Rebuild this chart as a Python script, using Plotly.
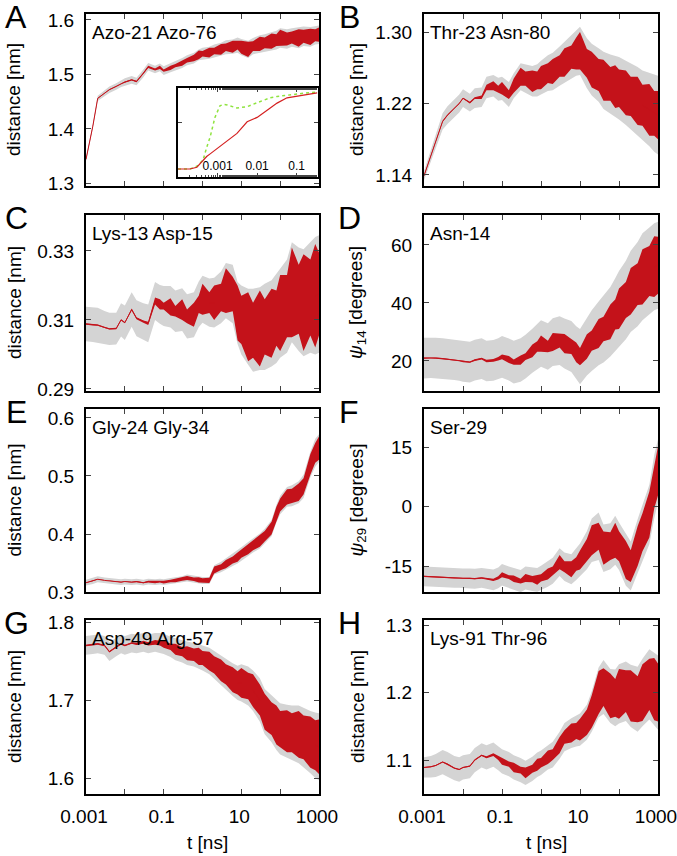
import numpy as np
import plotly.graph_objects as go

# time grid (ns), shared by all panels
t = [0.001, 0.0015, 0.002, 0.003, 0.004, 0.006, 0.008, 0.01, 0.015, 0.02, 0.03, 0.04,
     0.06, 0.08, 0.1, 0.15, 0.2, 0.3, 0.4, 0.6, 0.8, 1, 1.5, 2, 3, 4, 6, 8, 10, 15, 20,
     30, 40, 60, 80, 100, 150, 200, 300, 400, 600, 800, 1000]

# A: Azo-21 Azo-76
mean_A = [1.344, 1.405, 1.456, 1.466, 1.472, 1.478, 1.483, 1.486, 1.490, 1.487, 1.502,
          1.514, 1.509, 1.513, 1.507, 1.512, 1.516, 1.521, 1.526, 1.530, 1.536, 1.538,
          1.540, 1.543, 1.546, 1.550, 1.551, 1.554, 1.550, 1.546, 1.552, 1.556, 1.558,
          1.561, 1.563, 1.567, 1.565, 1.568, 1.567, 1.570, 1.569, 1.572, 1.573]
noise_A = [0.0008, 0.0008, 0.0008, 0.0008, 0.0008, 0.0008, 0.0008, 0.0008, 0.001, 0.0015, 0.0015,
           0.002, 0.002, 0.003, 0.002, 0.004, 0.003, 0.005, 0.004, 0.006, 0.008, 0.005,
           0.009, 0.006, 0.010, 0.007, 0.011, 0.008, 0.012, 0.014, 0.009, 0.013, 0.010,
           0.014, 0.011, 0.015, 0.012, 0.011, 0.016, 0.012, 0.015, 0.011, 0.013]
sd_A = [0.003, 0.004, 0.005, 0.006, 0.006, 0.006, 0.006, 0.007, 0.007, 0.007, 0.007,
        0.007, 0.007, 0.007, 0.008, 0.008, 0.008, 0.009, 0.009, 0.010, 0.010, 0.011,
        0.011, 0.012, 0.012, 0.013, 0.013, 0.014, 0.015, 0.016, 0.015, 0.016, 0.016,
        0.017, 0.017, 0.018, 0.018, 0.017, 0.019, 0.018, 0.018, 0.017, 0.017]

# B: Thr-23 Asn-80
mean_B = [1.139, 1.162, 1.178, 1.200, 1.207, 1.215, 1.220, 1.226, 1.221, 1.226, 1.227,
          1.238, 1.240, 1.236, 1.237, 1.230, 1.240, 1.250, 1.248, 1.245, 1.246, 1.249,
          1.254, 1.256, 1.262, 1.266, 1.272, 1.276, 1.279, 1.265, 1.258, 1.252, 1.246,
          1.242, 1.239, 1.237, 1.232, 1.228, 1.223, 1.218, 1.213, 1.209, 1.207]
noise_B = [0.0006, 0.0006, 0.0006, 0.0006, 0.0006, 0.0006, 0.0006, 0.0006, 0.001, 0.001, 0.002,
           0.003, 0.005, 0.004, 0.007, 0.005, 0.008, 0.010, 0.008, 0.012, 0.010, 0.013,
           0.011, 0.014, 0.012, 0.016, 0.013, 0.018, 0.021, 0.016, 0.020, 0.018, 0.023,
           0.019, 0.024, 0.021, 0.025, 0.022, 0.027, 0.023, 0.029, 0.025, 0.027]
sd_B = [0.005, 0.007, 0.008, 0.009, 0.010, 0.010, 0.010, 0.010, 0.010, 0.011, 0.011,
        0.012, 0.012, 0.013, 0.013, 0.014, 0.014, 0.015, 0.016, 0.017, 0.018, 0.019,
        0.020, 0.021, 0.022, 0.023, 0.024, 0.025, 0.027, 0.028, 0.029, 0.030, 0.032,
        0.033, 0.034, 0.035, 0.036, 0.037, 0.038, 0.039, 0.041, 0.043, 0.044]

# C: Lys-13 Asp-15
mean_C = [0.3088, 0.3086, 0.3085, 0.3078, 0.3074, 0.3075, 0.3100, 0.3092, 0.3130, 0.3105, 0.3095,
          0.3090, 0.3155, 0.3145, 0.3140, 0.3138, 0.3125, 0.3130, 0.3110, 0.3115, 0.3145, 0.3160,
          0.3150, 0.3150, 0.3165, 0.3185, 0.3175, 0.3120, 0.3100, 0.3080, 0.3070, 0.3075, 0.3080,
          0.3090, 0.3105, 0.3120, 0.3140, 0.3180, 0.3160, 0.3150, 0.3165, 0.3170, 0.3175]
noise_C = [0.0002, 0.0002, 0.0002, 0.0002, 0.0002, 0.0002, 0.0002, 0.0002, 0.0003, 0.0003, 0.0003,
           0.0005, 0.001, 0.0015, 0.001, 0.0025, 0.0015, 0.003, 0.002, 0.0035, 0.0025, 0.0045,
           0.003, 0.005, 0.004, 0.0065, 0.005, 0.008, 0.007, 0.010, 0.008, 0.011, 0.008,
           0.010, 0.008, 0.011, 0.009, 0.013, 0.010, 0.014, 0.011, 0.015, 0.012]
sd_C = [0.0050, 0.0050, 0.0050, 0.0048, 0.0047, 0.0046, 0.0048, 0.0050, 0.0050, 0.0052, 0.0053,
        0.0055, 0.0055, 0.0056, 0.0058, 0.0060, 0.0060, 0.0062, 0.0064, 0.0065, 0.0066, 0.0068,
        0.0070, 0.0072, 0.0075, 0.0080, 0.0085, 0.0090, 0.0100, 0.0110, 0.0120, 0.0120, 0.0125,
        0.0125, 0.0130, 0.0130, 0.0135, 0.0145, 0.0150, 0.0155, 0.0160, 0.0170, 0.0170]

# D: Asn-14, psi_14
mean_D = [21.0, 21.1, 21.0, 20.8, 20.6, 20.4, 20.2, 19.8, 19.6, 20.3, 20.8,
          20.0, 20.2, 20.8, 21.4, 20.5, 19.6, 20.3, 21.5, 23.5, 25.0, 26.0,
          25.0, 26.5, 27.0, 26.0, 25.0, 23.0, 21.5, 25.0, 27.0, 29.5, 31.0,
          33.5, 36.0, 38.0, 41.0, 44.0, 46.5, 49.0, 51.0, 52.5, 53.0]
noise_D = [0.2, 0.2, 0.2, 0.2, 0.2, 0.2, 0.2, 0.2, 0.2, 0.3, 0.3,
           0.4, 0.5, 0.6, 0.8, 1.2, 0.9, 1.6, 1.2, 2.2, 1.8, 2.8,
           2.0, 3.1, 2.4, 3.3, 2.6, 3.4, 3.0, 4.2, 3.5, 5.0, 4.2,
           6.0, 5.2, 7.0, 6.2, 8.0, 7.2, 9.5, 8.6, 10.5, 9.8]
sd_D = [7.0, 7.0, 7.0, 7.0, 7.0, 7.0, 7.0, 7.0, 7.0, 7.0, 7.0,
        7.0, 7.0, 7.0, 7.2, 7.2, 7.4, 7.5, 7.5, 7.6, 7.8, 8.0,
        8.0, 8.2, 8.4, 8.6, 8.8, 9.0, 9.5, 10.0, 10.5, 11.0, 11.5,
        12.0, 12.5, 13.0, 13.5, 14.0, 14.5, 15.0, 15.0, 15.0, 15.0]

# E: Gly-24 Gly-34
mean_E = [0.316, 0.319, 0.322, 0.320, 0.319, 0.318, 0.317, 0.318, 0.317, 0.318, 0.316,
          0.318, 0.317, 0.318, 0.317, 0.319, 0.320, 0.322, 0.324, 0.322, 0.321, 0.320,
          0.320, 0.338, 0.343, 0.348, 0.355, 0.360, 0.366, 0.374, 0.380, 0.388, 0.396,
          0.410, 0.435, 0.450, 0.464, 0.466, 0.472, 0.482, 0.520, 0.540, 0.548]
noise_E = [0.0005, 0.0005, 0.0005, 0.0005, 0.0005, 0.0005, 0.0005, 0.0005, 0.0008, 0.001, 0.001,
           0.0015, 0.002, 0.0015, 0.0025, 0.002, 0.003, 0.0025, 0.0035, 0.003, 0.0045, 0.0035,
           0.0045, 0.006, 0.005, 0.007, 0.006, 0.008, 0.007, 0.009, 0.008, 0.010, 0.009,
           0.011, 0.012, 0.011, 0.013, 0.012, 0.015, 0.014, 0.018, 0.017, 0.020]
sd_E = [0.005, 0.005, 0.005, 0.005, 0.005, 0.005, 0.005, 0.005, 0.005, 0.005, 0.005,
        0.005, 0.005, 0.005, 0.005, 0.005, 0.005, 0.005, 0.006, 0.006, 0.006, 0.006,
        0.006, 0.008, 0.009, 0.010, 0.010, 0.011, 0.011, 0.012, 0.012, 0.013, 0.013,
        0.014, 0.015, 0.016, 0.017, 0.018, 0.019, 0.020, 0.022, 0.024, 0.024]

# F: Ser-29, psi_29
mean_F = [-17.6, -17.7, -17.8, -17.9, -17.9, -18.0, -18.0, -18.1, -18.1, -18.2, -18.0,
          -18.2, -18.5, -18.0, -17.2, -17.8, -18.2, -18.8, -18.0, -18.3, -18.5, -18.0,
          -17.0, -16.2, -14.0, -15.2, -15.8, -14.5, -13.5, -11.0, -8.5, -7.5, -10.5,
          -10.0, -8.5, -10.0, -13.5, -15.0, -10.0, -6.5, -2.0, 5.0, 9.0]
noise_F = [0.15, 0.15, 0.15, 0.15, 0.15, 0.15, 0.15, 0.15, 0.15, 0.15, 0.2,
           0.2, 0.3, 0.4, 0.6, 0.5, 0.8, 0.6, 1.0, 0.8, 1.2, 0.9,
           1.4, 1.1, 1.8, 1.4, 2.0, 1.7, 2.4, 2.8, 3.8, 3.4, 4.2,
           3.5, 4.4, 3.8, 4.8, 4.0, 5.0, 4.8, 5.8, 5.5, 6.2]
sd_F = [2.5, 2.5, 2.5, 2.5, 2.5, 2.5, 2.5, 2.5, 2.5, 2.5, 2.5,
        2.5, 2.6, 2.6, 2.7, 2.7, 2.8, 2.8, 2.9, 3.0, 3.0, 3.1,
        3.2, 3.3, 3.5, 3.6, 3.8, 4.0, 4.2, 4.8, 5.5, 6.0, 6.0,
        5.8, 6.2, 6.0, 6.5, 6.2, 6.8, 7.0, 7.5, 8.0, 8.0]

# G: Asp-49 Arg-57
mean_G = [1.770, 1.771, 1.772, 1.770, 1.762, 1.768, 1.772, 1.770, 1.773, 1.772, 1.774,
          1.772, 1.774, 1.773, 1.772, 1.768, 1.765, 1.762, 1.760, 1.758, 1.756, 1.754,
          1.750, 1.745, 1.738, 1.733, 1.726, 1.722, 1.722, 1.718, 1.712, 1.700, 1.685,
          1.676, 1.668, 1.663, 1.660, 1.658, 1.656, 1.652, 1.646, 1.642, 1.640]
noise_G = [0.001, 0.001, 0.001, 0.001, 0.001, 0.001, 0.001, 0.001, 0.001, 0.0015, 0.002,
           0.002, 0.003, 0.003, 0.005, 0.004, 0.007, 0.006, 0.009, 0.008, 0.011, 0.009,
           0.012, 0.011, 0.014, 0.013, 0.016, 0.015, 0.019, 0.017, 0.021, 0.020, 0.023,
           0.021, 0.025, 0.023, 0.027, 0.025, 0.030, 0.028, 0.033, 0.032, 0.035]
sd_G = [0.012, 0.012, 0.012, 0.012, 0.012, 0.012, 0.012, 0.012, 0.012, 0.012, 0.012,
        0.012, 0.012, 0.013, 0.013, 0.013, 0.014, 0.014, 0.015, 0.015, 0.016, 0.016,
        0.017, 0.018, 0.019, 0.020, 0.021, 0.022, 0.024, 0.025, 0.026, 0.028, 0.029,
        0.030, 0.032, 0.033, 0.034, 0.035, 0.037, 0.038, 0.040, 0.042, 0.043]

# H: Lys-91 Thr-96
mean_H = [1.089, 1.090, 1.092, 1.097, 1.094, 1.088, 1.086, 1.089, 1.091, 1.100, 1.107,
          1.104, 1.108, 1.103, 1.098, 1.094, 1.089, 1.085, 1.081, 1.087, 1.093, 1.096,
          1.104, 1.108, 1.122, 1.134, 1.140, 1.143, 1.145, 1.156, 1.172, 1.200, 1.208,
          1.195, 1.192, 1.198, 1.202, 1.195, 1.190, 1.200, 1.212, 1.205, 1.200]
noise_H = [0.0008, 0.0008, 0.0008, 0.0008, 0.0008, 0.0008, 0.0008, 0.0008, 0.0008, 0.001, 0.001,
           0.0015, 0.002, 0.003, 0.005, 0.004, 0.007, 0.005, 0.008, 0.006, 0.009, 0.007,
           0.010, 0.008, 0.012, 0.010, 0.014, 0.012, 0.016, 0.019, 0.024, 0.032, 0.028,
           0.033, 0.028, 0.037, 0.031, 0.038, 0.034, 0.042, 0.038, 0.046, 0.043]
sd_H = [0.015, 0.016, 0.017, 0.018, 0.018, 0.018, 0.018, 0.018, 0.018, 0.018, 0.018,
        0.018, 0.018, 0.018, 0.018, 0.018, 0.018, 0.018, 0.018, 0.018, 0.018, 0.018,
        0.018, 0.019, 0.020, 0.021, 0.022, 0.023, 0.024, 0.026, 0.030, 0.037, 0.040,
        0.040, 0.042, 0.044, 0.044, 0.046, 0.048, 0.050, 0.052, 0.054, 0.055]

# inset of A (short times, arbitrary units)
inset_t = [1e-4, 2e-4, 3e-4, 4.3e-4, 5.3e-4, 6.5e-4, 8.6e-4, 1.15e-3, 1.4e-3, 1.75e-3,
           3.1e-3, 5.6e-3, 0.01, 0.0215, 0.032, 0.057, 0.145, 0.33]
inset_green = [0.09, 0.09, 0.12, 0.19, 0.33, 0.45, 0.67, 0.80, 0.815, 0.81,
               0.775, 0.79, 0.835, 0.89, 0.905, 0.92, 0.94, 0.955]
inset_red = [0.09, 0.09, 0.11, 0.19, 0.23, 0.26, 0.30, 0.35, 0.38, 0.41,
             0.49, 0.62, 0.67, 0.775, 0.83, 0.89, 0.92, 0.945]

DIST = "distance [nm]"
panels = [
    ("A", "Azo-21 Azo-76", DIST, mean_A, noise_A, sd_A, [1.295, 1.611], [1.3, 1.4, 1.5, 1.6], ["1.3", "1.4", "1.5", "1.6"]),
    ("B", "Thr-23 Asn-80", DIST, mean_B, noise_B, sd_B, [1.1276, 1.3203], [1.14, 1.22, 1.30], ["1.14", "1.22", "1.30"]),
    ("C", "Lys-13 Asp-15", DIST, mean_C, noise_C, sd_C, [0.2894, 0.3404], [0.29, 0.31, 0.33], ["0.29", "0.31", "0.33"]),
    ("D", "Asn-14", "<i>ψ</i><sub>14</sub> [degrees]", mean_D, noise_D, sd_D, [9.65, 70.3], [20, 40, 60], ["20", "40", "60"]),
    ("E", "Gly-24 Gly-34", DIST, mean_E, noise_E, sd_E, [0.3, 0.6155], [0.3, 0.4, 0.5, 0.6], ["0.3", "0.4", "0.5", "0.6"]),
    ("F", "Ser-29", "<i>ψ</i><sub>29</sub> [degrees]", mean_F, noise_F, sd_F, [-21.55, 24.6], [-15, 0, 15], ["-15", "0", "15"]),
    ("G", "Asp-49 Arg-57", DIST, mean_G, noise_G, sd_G, [1.5795, 1.8026], [1.6, 1.7, 1.8], ["1.6", "1.7", "1.8"]),
    ("H", "Lys-91 Thr-96", DIST, mean_H, noise_H, sd_H, [1.0497, 1.3074], [1.1, 1.2, 1.3], ["1.1", "1.2", "1.3"]),
]

W, H = 677, 856
COLS = [(86, 319), (424, 658)]
ROWS = [(14, 186), (215, 391), (409, 592), (620, 794)]
FONT = "Liberation Sans, Arial, sans-serif"
RED = "#c4121a"
GRAY = "#d4d4d4"


def px(x):
    return x / W


def py(y):
    return 1 - y / H


fig = go.Figure()
layout = {}
annotations = []
xt = [0.001, 0.01, 0.1, 1, 10, 100, 1000]
xt_text = ["0.001", "", "0.1", "", "10", "", "1000"]

for i, (letter, label, ytitle, mean, noise, sd, yr, yt, yt_text) in enumerate(panels):
    row, col = divmod(i, 2)
    x0, x1 = COLS[col]
    y0, y1 = ROWS[row]
    n = "" if i == 0 else str(i + 1)
    xref, yref = "x" + n, "y" + n
    m = np.array(mean)
    r = np.array(noise)
    g = np.array(sd)
    tt = list(t)
    # grey band (spread over runs), red band (noisy mean), thin mean line
    for half, color in [(g, GRAY), (r, RED)]:
        fig.add_trace(go.Scatter(
            x=tt + tt[::-1], y=list(m + half) + list((m - half)[::-1]),
            fill="toself", fillcolor=color, line=dict(width=0), mode="lines",
            hoverinfo="skip", showlegend=False, xaxis=xref, yaxis=yref))
    fig.add_trace(go.Scatter(x=tt, y=mean, mode="lines", line=dict(color=RED, width=1),
                             showlegend=False, xaxis=xref, yaxis=yref))
    bottom = row == 3
    layout["xaxis" + n] = dict(
        type="log", range=[-3, 3], domain=[px(x0), px(x1)], anchor=yref, automargin=False,
        tickvals=xt, ticktext=xt_text, showticklabels=bottom,
        ticks="inside", ticklen=5, tickwidth=1, mirror="ticks",
        showline=True, linewidth=2, linecolor="black", showgrid=False, zeroline=False,
        tickfont=dict(size=19, color="black", family=FONT), ticklabelstandoff=4,
        ticklabelshift=-2, ticklabeloverflow="allow")
    layout["yaxis" + n] = dict(
        range=yr, domain=[py(y1), py(y0)], anchor=xref, automargin=False,
        tickvals=yt, ticktext=yt_text,
        ticks="inside", ticklen=5, tickwidth=1, mirror="ticks",
        showline=True, linewidth=2, linecolor="black", showgrid=False, zeroline=False,
        tickfont=dict(size=19, color="black", family=FONT), ticklabelstandoff=6)
    annotations.append(dict(text=letter, x=px(16 if col == 0 else 349), y=py(y0 + 3),
                            xanchor="center", yanchor="middle",
                            xref="paper", yref="paper", showarrow=False,
                            font=dict(size=32, color="black", family=FONT)))
    annotations.append(dict(text=label, x=px(x0 + 4), y=py(y0 + 18), xanchor="left",
                            yanchor="middle", xref="paper", yref="paper", showarrow=False,
                            font=dict(size=19, color="black", family=FONT)))
    annotations.append(dict(text=ytitle, x=px(14 if col == 0 else 357), y=py((y0 + y1) / 2),
                            xanchor="center", yanchor="middle",
                            textangle=-90, xref="paper", yref="paper", showarrow=False,
                            font=dict(size=19, color="black", family=FONT)))
    if bottom:
        annotations.append(dict(text="t [ns]", x=px((x0 + x1) / 2 + 5), y=py(842),
                                xanchor="center", yanchor="middle",
                                xref="paper", yref="paper", showarrow=False,
                                font=dict(size=19, color="black", family=FONT)))

# inset in panel A
fig.add_trace(go.Scatter(x=inset_t, y=inset_green, mode="lines",
                         line=dict(color="#8fe33f", width=1.5, dash="dot"),
                         showlegend=False, xaxis="x9", yaxis="y9"))
fig.add_trace(go.Scatter(x=inset_t, y=inset_red, mode="lines",
                         line=dict(color="#d42020", width=1.2),
                         showlegend=False, xaxis="x9", yaxis="y9"))
layout["xaxis9"] = dict(
    type="log", range=[-4, -0.46], domain=[px(178), px(318)], anchor="y9", automargin=False,
    tickvals=[0.001, 0.01, 0.1], ticktext=["0.001", "0.01", "0.1"],
    ticklabelposition="inside", ticks="inside", ticklen=4, mirror="ticks",
    minor=dict(ticks="inside", ticklen=2, showgrid=False),
    showline=True, linewidth=2, linecolor="black", showgrid=False, zeroline=False,
    tickfont=dict(size=12, color="black", family=FONT))
layout["yaxis9"] = dict(
    range=[0, 1], domain=[py(177), py(88)], anchor="x9", automargin=False,
    tickvals=[0.2, 0.61], showticklabels=False, ticks="inside", ticklen=4, mirror="ticks",
    showline=True, linewidth=2, linecolor="black", showgrid=False, zeroline=False)

fig.update_layout(
    width=W, height=H, margin=dict(l=0, r=0, t=0, b=0),
    paper_bgcolor="white", plot_bgcolor="white",
    font=dict(family=FONT, color="black"),
    annotations=annotations, **layout)
# drop the page's default body margin so the figure sits at the window corner
fig.write_html("out.html", config={"displayModeBar": False},
               post_script="document.body.style.margin='0';")
